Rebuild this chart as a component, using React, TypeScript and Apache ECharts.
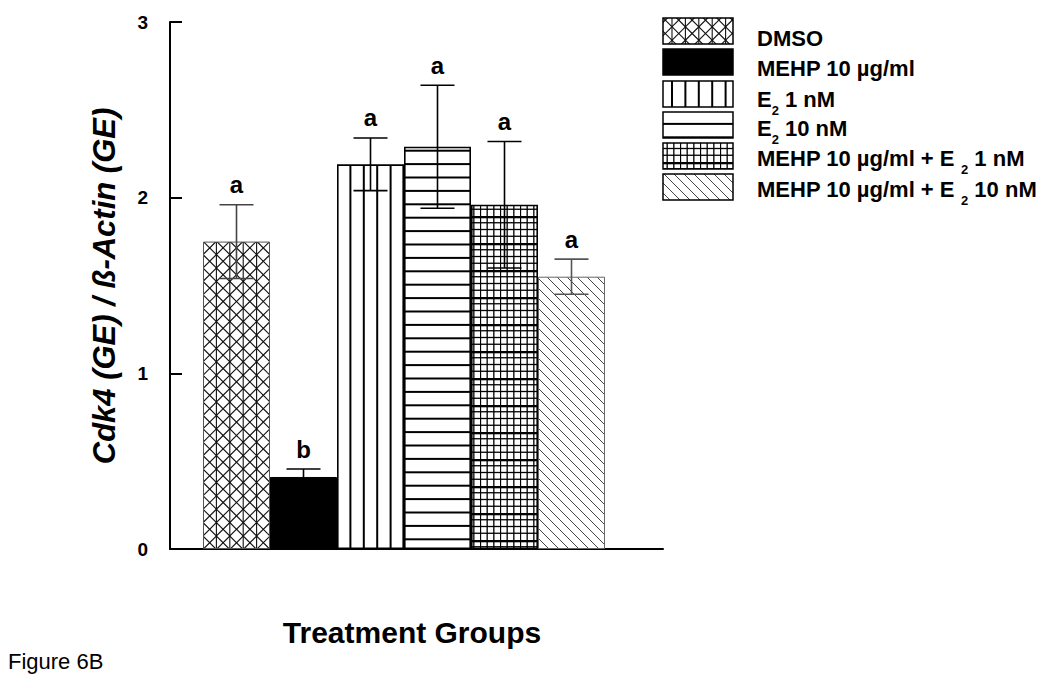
import React, { useEffect, useRef } from "react";
import * as echarts from "echarts";

// ---- data ----
const categories = [
  "DMSO",
  "MEHP 10 µg/ml",
  "E2 1 nM",
  "E2 10 nM",
  "MEHP 10 µg/ml + E2 1 nM",
  "MEHP 10 µg/ml + E2 10 nM",
];
// legend label pieces: main text, optional subscript, trailing text
const legendPre = ["DMSO", "MEHP 10 µg/ml", "E", "E", "MEHP 10 µg/ml + E", "MEHP 10 µg/ml + E"];
const legendSpaceBeforeSub = [false, false, false, false, true, true];
const legendSub = ["", "", "2", "2", "2", "2"];
const legendPost = ["", "", "1 nM", "10 nM", "1 nM", "10 nM"];

const means = [1.75, 0.41, 2.19, 2.29, 1.96, 1.55];
const errLow = [1.54, 0.365, 2.04, 1.94, 1.6, 1.45];
const errHigh = [1.96, 0.455, 2.34, 2.64, 2.32, 1.65];
const letters = ["a", "b", "a", "a", "a", "a"];
const yTicks = [0, 1, 2, 3];
const yLabel = "Cdk4 (GE) / ß-Actin (GE)";
const xLabel = "Treatment Groups";
const figLabel = "Figure 6B";

const FONT = '"Liberation Sans", Arial, sans-serif';

function makeCanvas(w: number, h: number, draw: (g: CanvasRenderingContext2D) => void) {
  const c = document.createElement("canvas");
  c.width = w;
  c.height = h;
  const g = c.getContext("2d") as CanvasRenderingContext2D;
  g.fillStyle = "#fff";
  g.fillRect(0, 0, w, h);
  draw(g);
  return c;
}

function buildPatterns() {
  const step = 67 / 5;
  const crossHatch = makeCanvas(67, 67, (g) => {
    g.strokeStyle = "#111";
    g.lineWidth = 1.1;
    g.translate(2, 0);
    for (let k = -6; k <= 6; k++) {
      const x = k * step;
      g.beginPath();
      g.moveTo(x, 0);
      g.lineTo(x, 67);
      g.stroke();
      g.beginPath();
      g.moveTo(x, 0);
      g.lineTo(x + 67, 67);
      g.stroke();
      g.beginPath();
      g.moveTo(x, 67);
      g.lineTo(x + 67, 0);
      g.stroke();
    }
  });
  const solid = "#000";
  const vertical = makeCanvas(67, 10, (g) => {
    g.strokeStyle = "#000";
    g.lineWidth = 2;
    for (let k = 0; k < 5; k++) {
      const x = 2 + k * step;
      g.beginPath();
      g.moveTo(x, 0);
      g.lineTo(x, 10);
      g.stroke();
    }
  });
  const horizontal = makeCanvas(10, 67, (g) => {
    g.strokeStyle = "#000";
    g.lineWidth = 2;
    for (let k = 0; k < 5; k++) {
      const y = 3.3 + k * step;
      g.beginPath();
      g.moveTo(0, y);
      g.lineTo(10, y);
      g.stroke();
    }
  });
  const grid = makeCanvas(20, 27, (g) => {
    g.strokeStyle = "#000";
    g.lineWidth = 1.3;
    for (let k = 0; k < 3; k++) {
      const x = 0.5 + (k * 20) / 3;
      g.beginPath();
      g.moveTo(x, 0);
      g.lineTo(x, 27);
      g.stroke();
    }
    for (let k = 1; k < 4; k++) {
      const y = (k * 27) / 4;
      g.beginPath();
      g.moveTo(0, y);
      g.lineTo(20, y);
      g.stroke();
    }
    g.lineWidth = 2.6;
    g.beginPath();
    g.moveTo(0, 1);
    g.lineTo(20, 1);
    g.stroke();
  });
  const diagonal = makeCanvas(10, 10, (g) => {
    g.strokeStyle = "#444";
    g.lineWidth = 1;
    for (let k = -1; k <= 1; k++) {
      g.beginPath();
      g.moveTo(k * 10, 0);
      g.lineTo(k * 10 + 10, 10);
      g.stroke();
    }
  });
  const pat = (c: HTMLCanvasElement) => ({ type: "pattern", image: c, repeat: "repeat" });
  return [pat(crossHatch), solid, pat(vertical), pat(horizontal), pat(grid), pat(diagonal)];
}

const borderColors = ["#555", "#000", "#000", "#000", "#000", "#666"];
const borderWidths = [1, 1, 1.6, 1.6, 1.6, 1];
const errColors = ["#444", "#000", "#000", "#000", "#000", "#555"];

export default function App() {
  const ref = useRef<HTMLDivElement>(null);
  useEffect(() => {
    if (!ref.current) return;
    const chart = echarts.init(ref.current, null, { renderer: "svg" });
    const patterns = buildPatterns();

    const mainFont = `bold 22px ${FONT}`;
    const subFont = `bold 13px ${FONT}`;
    const mc = document.createElement("canvas").getContext("2d") as CanvasRenderingContext2D;
    const measure = (t: string, f: string) => {
      mc.font = f;
      return mc.measureText(t).width;
    };
    const spaceW = measure(" ", mainFont);

    const legendTop = [18, 49, 81, 112, 143, 174];
    const legendTextY = [38, 68, 99, 128, 158, 189];
    const textX = 757;

    const legendGraphics: any[] = [];
    categories.forEach((_, i) => {
      legendGraphics.push({
        type: "rect",
        shape: { x: 663, y: legendTop[i], width: 70, height: 26 },
        style: { fill: patterns[i], stroke: "#000", lineWidth: 1.5 },
      });
      legendGraphics.push({
        type: "text",
        x: textX,
        y: legendTextY[i],
        style: { text: legendPre[i], font: mainFont, fill: "#000", align: "left", verticalAlign: "middle" },
      });
      if (legendSub[i]) {
        const subX = textX + measure(legendPre[i], mainFont) + (legendSpaceBeforeSub[i] ? spaceW : 0);
        legendGraphics.push({
          type: "text",
          x: subX,
          y: legendTextY[i] + 11,
          style: { text: legendSub[i], font: subFont, fill: "#000", align: "left", verticalAlign: "middle" },
        });
        const postX = subX + measure(legendSub[i], subFont) + spaceW;
        legendGraphics.push({
          type: "text",
          x: postX,
          y: legendTextY[i],
          style: { text: legendPost[i], font: mainFont, fill: "#000", align: "left", verticalAlign: "middle" },
        });
      }
    });

    chart.setOption({
      animation: false,
      backgroundColor: "#fff",
      grid: [
        { left: 170, top: 22, width: 493, height: 527 },
        { left: 203, top: 22, width: 402, height: 527 },
      ],
      xAxis: [
        {
          gridIndex: 0,
          type: "category",
          data: [""],
          axisLine: { show: true, lineStyle: { color: "#000", width: 2 } },
          axisTick: { show: false },
          axisLabel: { show: false },
          splitLine: { show: false },
        },
        {
          gridIndex: 1,
          type: "category",
          data: categories,
          show: false,
        },
      ],
      yAxis: [
        {
          gridIndex: 0,
          type: "value",
          min: yTicks[0],
          max: yTicks[yTicks.length - 1],
          interval: 1,
          axisLine: { show: true, lineStyle: { color: "#000", width: 2 } },
          axisTick: { show: true, inside: true, length: 12, lineStyle: { color: "#000", width: 2 } },
          axisLabel: {
            color: "#000",
            fontWeight: "bold",
            fontSize: 19,
            fontFamily: FONT,
            margin: 22,
            padding: [9, 0, 0, 0],
          },
          splitLine: { show: false },
        },
        {
          gridIndex: 1,
          type: "value",
          min: yTicks[0],
          max: yTicks[yTicks.length - 1],
          show: false,
        },
      ],
      series: [
        {
          type: "bar",
          xAxisIndex: 1,
          yAxisIndex: 1,
          barWidth: "100%",
          data: means.map((v, i) => ({
            value: v,
            itemStyle: {
              color: patterns[i],
              borderColor: borderColors[i],
              borderWidth: borderWidths[i],
            },
          })),
        },
        {
          type: "custom",
          xAxisIndex: 1,
          yAxisIndex: 1,
          z: 5,
          data: means.map((_, i) => [i, errLow[i], errHigh[i]]),
          renderItem: (params: any, api: any) => {
            const idx = params.dataIndex;
            const i = api.value(0);
            const lo = api.coord([i, api.value(1)]);
            const hi = api.coord([i, api.value(2)]);
            const x = hi[0];
            const st = { stroke: errColors[idx], lineWidth: 1.6 };
            return {
              type: "group",
              children: [
                { type: "line", shape: { x1: x, y1: lo[1], x2: x, y2: hi[1] }, style: st },
                { type: "line", shape: { x1: x - 17, y1: hi[1], x2: x + 17, y2: hi[1] }, style: st },
                { type: "line", shape: { x1: x - 17, y1: lo[1], x2: x + 17, y2: lo[1] }, style: st },
                {
                  type: "text",
                  x: x,
                  y: hi[1] - 8,
                  style: {
                    text: letters[idx],
                    font: `bold 24px ${FONT}`,
                    fill: "#000",
                    align: "center",
                    verticalAlign: "bottom",
                  },
                },
              ],
            };
          },
        },
      ],
      graphic: [
        {
          type: "text",
          x: 104,
          y: 286,
          rotation: Math.PI / 2,
          style: {
            text: yLabel,
            font: `italic bold 31px ${FONT}`,
            fill: "#000",
            align: "center",
            verticalAlign: "middle",
          },
        },
        {
          type: "text",
          x: 412,
          y: 632,
          style: {
            text: xLabel,
            font: `bold 30px ${FONT}`,
            fill: "#000",
            align: "center",
            verticalAlign: "middle",
          },
        },
        {
          type: "text",
          x: 8,
          y: 661,
          style: {
            text: figLabel,
            font: `22px ${FONT}`,
            fill: "#000",
            align: "left",
            verticalAlign: "middle",
          },
        },
        ...legendGraphics,
      ],
    });
    return () => chart.dispose();
  }, []);
  return (
    <div
      ref={ref}
      style={{ position: "fixed", left: 0, top: 0, width: 1050, height: 688, background: "#fff" }}
    />
  );
}
